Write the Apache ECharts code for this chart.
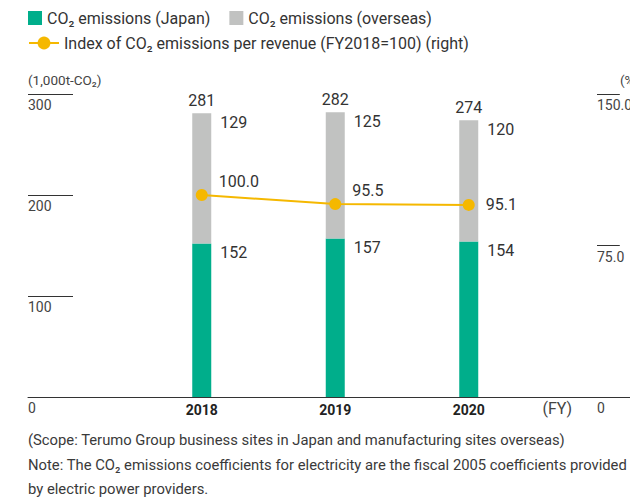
<!DOCTYPE html>
<html>
<head>
<meta charset="utf-8">
<title>CO2 emissions</title>
<script src="https://cdn.jsdelivr.net/npm/echarts@6/dist/echarts.min.js"></script>
<style>
  html, body { margin: 0; padding: 0; background: #fff; }
  #main { position: absolute; left: 0; top: 0; width: 630px; height: 504px; }
  .note { position: absolute; left: 28px; font-family: Roboto, sans-serif; font-size: 14.8px; color: #3a3a3a; white-space: nowrap; line-height: 18px; }
</style>
</head>
<body>
<div id="main"></div>
<div class="note" style="top:431px">(Scope: Terumo Group business sites in Japan and manufacturing sites overseas)</div>
<div class="note" style="top:456px">Note: The CO₂ emissions coefficients for electricity are the fiscal 2005 coefficients provided</div>
<div class="note" style="top:480px">by electric power providers.</div>
<script type="text/javascript">
// 数据
var years = ['2018', '2019', '2020'];
var japan = [152, 157, 154];
var overseas = [129, 125, 120];
var totals = [281, 282, 274];
var indexValues = [100.0, 95.5, 95.1];
var leftTicks = ['0', '100', '200', '300'];
var rightTicks = ['0', '75.0', '150.0'];

var nameJapan = 'CO₂ emissions (Japan)';
var nameOverseas = 'CO₂ emissions (overseas)';
var nameIndex = 'Index of CO₂ emissions per revenue (FY2018=100) (right)';

var font = 'Roboto';
var textColor = '#333';

var myChart = echarts.init(document.getElementById('main'), null, { renderer: 'svg' });

var option = {
    animation: false,
    textStyle: { fontFamily: font },
    legend: [{
        data: [nameJapan, nameOverseas],
        left: 28, top: 10, padding: 0,
        itemWidth: 14, itemHeight: 14, itemGap: 19,
        icon: 'rect',
        textStyle: { fontFamily: font, fontSize: 16, color: textColor }
    }, {
        data: [nameIndex],
        left: 28, top: 35, padding: 0,
        itemWidth: 30, itemHeight: 16,
        textStyle: { fontFamily: font, fontSize: 16, color: textColor }
    }],
    grid: [
        { left: 135, right: 94.5, top: 94, bottom: 107 },  // bars + line
        { left: 28, width: 45, top: 94, bottom: 107 },     // left ticks
        { left: 597, right: 0, top: 94, bottom: 107 },     // right ticks
        { left: 28, right: 0, top: 94, bottom: 107 }       // baseline
    ],
    xAxis: [{
        gridIndex: 0, type: 'category', data: years,
        axisLine: { show: false }, axisTick: { show: false },
        axisLabel: { fontFamily: font, fontSize: 14, fontWeight: 'bold', color: '#222', margin: 6 },
        name: '(FY)', nameLocation: 'end', nameGap: 7,
        nameTextStyle: { fontFamily: font, fontSize: 16, color: '#444', verticalAlign: 'top', padding: [3, 0, 0, 0] }
    }, {
        gridIndex: 1, type: 'value', show: false, min: 0, max: 1
    }, {
        gridIndex: 2, type: 'value', show: false, min: 0, max: 1
    }, {
        gridIndex: 3, type: 'category', data: [''],
        axisLine: { show: true, lineStyle: { color: '#333', width: 1 } },
        axisTick: { show: false }, axisLabel: { show: false }
    }],
    yAxis: [{
        gridIndex: 0, type: 'value', min: 0, max: 300, show: false
    }, {
        gridIndex: 0, type: 'value', min: 0, max: 150, show: false
    }, {
        gridIndex: 1, type: 'value', min: 0, max: 300, interval: 100,
        axisLine: { show: false }, axisTick: { show: false },
        splitLine: { show: true, lineStyle: { color: '#333', width: 1 } },
        axisLabel: {
            inside: true, margin: 0, align: 'left', verticalAlign: 'top',
            padding: [4, 0, 0, 0], fontFamily: font, fontSize: 14, color: '#444',
            formatter: function (v) { return leftTicks[Math.round(v / 100)]; }
        },
        name: '(1,000t-CO₂)', nameLocation: 'end', nameGap: 7,
        nameTextStyle: { fontFamily: font, fontSize: 13.5, color: '#444', align: 'left' }
    }, {
        gridIndex: 2, type: 'value', min: 0, max: 150, interval: 75,
        axisLine: { show: false }, axisTick: { show: false },
        splitLine: { show: true, lineStyle: { color: '#333', width: 1 } },
        axisLabel: {
            inside: true, margin: 0, align: 'left', verticalAlign: 'top',
            padding: [4, 0, 0, 0], fontFamily: font, fontSize: 14, color: '#444',
            formatter: function (v) { return rightTicks[Math.round(v / 75)]; }
        },
        name: '(%)', nameLocation: 'end', nameGap: 7,
        nameTextStyle: { fontFamily: font, fontSize: 13.5, color: '#444', align: 'left', padding: [0, 0, 0, 23] }
    }, {
        gridIndex: 3, type: 'value', min: 0, max: 1, show: false
    }],
    series: [{
        name: nameJapan, type: 'bar', stack: 'co2',
        xAxisIndex: 0, yAxisIndex: 0,
        barWidth: 19,
        itemStyle: { color: '#00ae8b' },
        label: {
            show: true, position: ['100%', 0], offset: [9, 1],
            align: 'left', verticalAlign: 'top',
            fontFamily: font, fontSize: 16, color: textColor
        },
        data: japan
    }, {
        name: nameOverseas, type: 'bar', stack: 'co2',
        xAxisIndex: 0, yAxisIndex: 0,
        barWidth: 19,
        itemStyle: { color: '#c1c2c1' },
        label: {
            show: true, position: ['100%', 0], offset: [9, 1],
            align: 'left', verticalAlign: 'top',
            fontFamily: font, fontSize: 16, color: textColor
        },
        data: overseas
    }, {
        // 合计标签
        name: 'total', type: 'bar', stack: 'co2',
        xAxisIndex: 0, yAxisIndex: 0,
        barWidth: 19,
        itemStyle: { color: 'transparent' },
        label: {
            show: true, position: 'insideBottom', distance: 5,
            fontFamily: font, fontSize: 16, color: textColor,
            formatter: function (p) { return totals[p.dataIndex]; }
        },
        data: totals.map(function () { return 0; })
    }, {
        name: nameIndex, type: 'line',
        xAxisIndex: 0, yAxisIndex: 1,
        symbol: 'circle', symbolSize: 12,
        lineStyle: { color: '#f5b800', width: 2 },
        itemStyle: { color: '#f5b800' },
        z: 5,
        data: indexValues.map(function (v, i) {
            return {
                value: v,
                label: { offset: i === 2 ? [0, 0] : [0, -14] }
            };
        }),
        label: {
            show: true, position: 'right', distance: 11,
            fontFamily: font, fontSize: 16, color: textColor,
            formatter: function (p) { return p.value.toFixed(1); }
        }
    }]
};

myChart.setOption(option);
</script>
</body>
</html>
